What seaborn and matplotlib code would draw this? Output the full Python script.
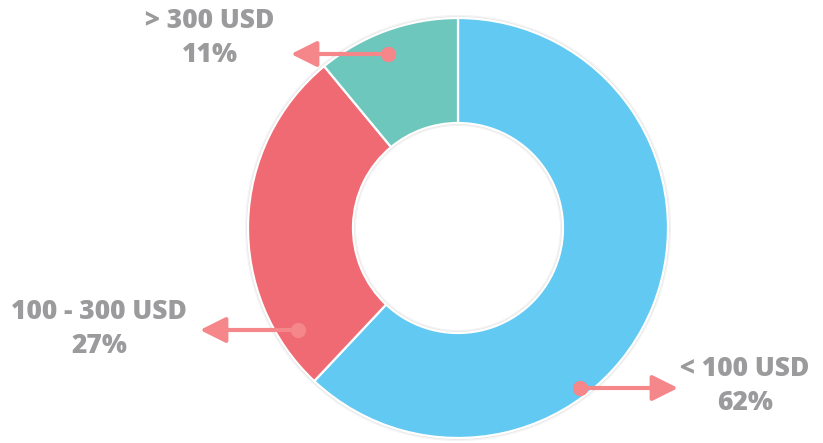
import matplotlib.pyplot as plt
import seaborn as sns
from matplotlib.patches import Wedge

# data
labels = ['< 100 USD', '100 - 300 USD', '> 300 USD']
shares = [62, 27, 11]
colors = ['#62C9F3', '#F06A73', '#6EC7BD']

# layout (pixel coords, y from top)
center = (458, 228)
radius = 210
label_pos = [(745, 386), (99, 329), (210, 38)]
arrow_from = [(580, 388), (298, 330), (388, 54)]
arrow_to = [(678, 388), (200, 330), (291, 54)]

sns.set_theme(style='white')
plt.rcParams['font.family'] = ['Open Sans', 'DejaVu Sans']

W, H = 823, 443
fig = plt.figure(figsize=(W / 100, H / 100), dpi=100)
ax = fig.add_axes([0, 0, 1, 1])

cx, cy = center[0], H - center[1]

# faint shadow ring around the donut
for dr, a in [(3, 0.10), (1.5, 0.18)]:
    ax.add_patch(Wedge((cx, cy), radius + dr, 0, 360, width=radius * 0.5 + 2 * dr,
                       facecolor='#8a8a8a', alpha=a, edgecolor='none'))

ax.pie(shares, colors=colors, startangle=90, counterclock=False,
       center=(cx, cy), radius=radius,
       wedgeprops=dict(width=radius * 0.5, edgecolor='white', linewidth=1.6))

arrow_col = '#F5868A'
for lab, s, (lx, ly), (fx, fy), (tx, ty) in zip(labels, shares, label_pos, arrow_from, arrow_to):
    ax.annotate('', xy=(tx, H - ty), xytext=(fx, H - fy),
                arrowprops=dict(arrowstyle='-|>,head_length=1.3,head_width=0.65',
                                color=arrow_col, lw=3, shrinkA=0, shrinkB=0))
    ax.plot(fx, H - fy, 'o', color=arrow_col, ms=10, zorder=5)
    ax.text(lx, H - ly, f'{lab}\n{s}%', ha='center', va='center', fontsize=19,
            fontweight=800, color='#9B9A9C', linespacing=1.4)

ax.set_xlim(0, W)
ax.set_ylim(0, H)
ax.set_aspect('equal')
ax.axis('off')

fig.savefig('out.png', dpi=100, facecolor='white')
